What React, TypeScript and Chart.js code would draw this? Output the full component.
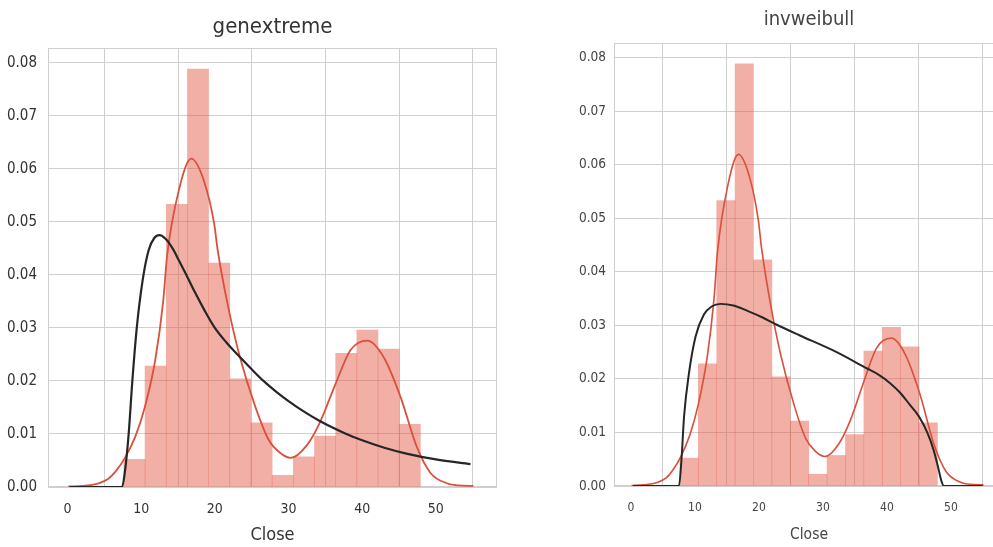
import React, { useEffect, useRef } from "react";
import { Chart, registerables } from "chart.js";

Chart.register(...registerables);

// Histogram of "Close" (density), same data in both panels
const binCenters = [9.09, 11.96, 14.84, 17.71, 20.59, 23.46, 26.34, 29.21, 32.09, 34.96, 37.84, 40.71, 43.59, 46.46];
const binHeights = [0.0052, 0.0228, 0.0533, 0.0788, 0.0422, 0.0204, 0.0121, 0.0022, 0.0057, 0.0096, 0.0252, 0.0296, 0.026, 0.0118];

// KDE (red) curve
const kdeX = [0.1, 2, 4.2, 5.5, 6.5, 7.8, 9.2, 10.5, 11.9, 13.0, 13.5, 15.1, 16.8, 18.5, 19.9, 20.4, 21.8, 23.4, 25.5, 27.3, 28.8, 30.3, 32.5, 34.3, 36.4, 38.4, 40.7, 42.9, 45.2, 47.4, 49.3, 51.5, 53, 55.1];
const kdeY = [0.0001, 0.0002, 0.0007, 0.0015, 0.0029, 0.0055, 0.0095, 0.0151, 0.0239, 0.0352, 0.0434, 0.0559, 0.0619, 0.0578, 0.0497, 0.0445, 0.034, 0.0245, 0.0151, 0.0089, 0.0065, 0.0055, 0.0079, 0.0123, 0.0195, 0.0258, 0.0276, 0.0245, 0.017, 0.0076, 0.0026, 0.0007, 0.0003, 0.0002];

// genextreme fit (black, left panel)
const gevX = [0.3, 7.4, 7.8, 8.3, 8.8, 9.4, 10.2, 11.0, 11.8, 12.5, 13.3, 14.3, 15.2, 16.2, 17.3, 18.6, 20.0, 21.6, 23.4, 25.0, 26.6, 28.3, 30, 32, 34.3, 37.7, 40, 43, 46, 50, 54.7];
const gevY = [0, 0, 0.003, 0.01, 0.02, 0.03, 0.039, 0.0446, 0.047, 0.0475, 0.0468, 0.0449, 0.0425, 0.0398, 0.0367, 0.0333, 0.03, 0.0272, 0.0245, 0.0222, 0.02, 0.018, 0.0162, 0.0143, 0.0124, 0.0101, 0.0088, 0.0074, 0.0063, 0.0052, 0.0043];

// invweibull fit (black, right panel)
const iwX = [0.3, 7.5, 7.9, 8.3, 9.06, 10.1, 11.4, 12.6, 14.0, 16, 18.2, 20.5, 22.8, 26.4, 31.6, 36.8, 38.8, 40.5, 42.0, 43.5, 45.0, 46.3, 47.3, 48.0, 48.5, 48.9, 55];
const iwY = [0, 0, 0.005, 0.013, 0.021, 0.0279, 0.032, 0.0335, 0.034, 0.0337, 0.0327, 0.0315, 0.0301, 0.0281, 0.0253, 0.022, 0.0207, 0.0192, 0.0175, 0.0153, 0.013, 0.01, 0.0067, 0.0035, 0.001, 0, 0];

const xTicks = [0, 10, 20, 30, 40, 50];
const yTicks = [0, 0.01, 0.02, 0.03, 0.04, 0.05, 0.06, 0.07, 0.08];

const FONT = '"Liberation Sans Narrow", "Arial Narrow", "DejaVu Sans Condensed", "Liberation Sans", sans-serif';
const GRID = "#cfcfcf";

const boxPlugin = {
  id: "plotBox",
  beforeDatasetsDraw(chart: any) {
    const { ctx, chartArea } = chart;
    ctx.save();
    ctx.strokeStyle = GRID;
    ctx.lineWidth = 1;
    const l = Math.round(chartArea.left) + 0.5;
    const t = Math.round(chartArea.top) + 0.5;
    const r = Math.round(chartArea.right) - 0.5;
    const b = Math.round(chartArea.bottom) - 0.5;
    ctx.strokeRect(l, t, r - l, b - t);
    ctx.restore();
  },
};

type PanelOpts = {
  title: string;
  fitX: number[];
  fitY: number[];
  yAxisWidth: number;
  xAxisHeight: number;
  padRight: number;
  titleSize: number;
  titlePadTop: number;
  titlePadBottom: number;
  tickSizeX: number;
  tickSizeY: number;
  tickPadY: number;
  tickPadX: number;
  labelSize: number;
  labelPadBottom: number;
  textColor: string;
  lineScale: number;
};

function makeConfig(o: PanelOpts): any {
  const pts = (xs: number[], ys: number[]) => xs.map((x, i) => ({ x, y: ys[i] }));
  return {
    type: "bar",
    data: {
      datasets: [
        {
          type: "line",
          data: pts(o.fitX, o.fitY),
          borderColor: "#262626",
          borderWidth: 2.2 * o.lineScale,
          pointRadius: 0,
          cubicInterpolationMode: "monotone",
          fill: false,
          order: 1,
        },
        {
          type: "line",
          data: pts(kdeX, kdeY),
          borderColor: "#d9503c",
          borderWidth: 1.8 * o.lineScale,
          pointRadius: 0,
          cubicInterpolationMode: "monotone",
          fill: false,
          order: 2,
        },
        {
          type: "bar",
          data: pts(binCenters, binHeights),
          backgroundColor: "rgba(226,80,60,0.46)",
          borderWidth: 0,
          barPercentage: 1,
          categoryPercentage: 1,
          order: 3,
        },
      ],
    },
    options: {
      responsive: false,
      animation: false,
      devicePixelRatio: 1,
      layout: { padding: { left: 0, right: o.padRight, top: 0, bottom: 0 } },
      plugins: {
        legend: { display: false },
        tooltip: { enabled: false },
        title: {
          display: true,
          text: o.title,
          fullSize: false,
          color: o.textColor,
          font: { family: FONT, size: o.titleSize, weight: "normal" },
          padding: { top: o.titlePadTop, bottom: o.titlePadBottom },
        },
      },
      scales: {
        x: {
          type: "linear",
          min: -2.65,
          max: 58.3,
          offset: false,
          afterBuildTicks: (s: any) => {
            s.ticks = xTicks.map((v) => ({ value: v }));
          },
          afterFit: (s: any) => {
            s.height = o.xAxisHeight;
          },
          grid: { color: GRID, drawTicks: false, lineWidth: 1 },
          border: { display: false },
          ticks: {
            color: o.textColor,
            padding: o.tickPadX,
            maxRotation: 0,
            font: { family: FONT, size: o.tickSizeX },
            callback: (v: any) => String(v),
          },
          title: {
            display: true,
            text: "Close",
            color: o.textColor,
            font: { family: FONT, size: o.labelSize },
            padding: { top: 0, bottom: o.labelPadBottom },
          },
        },
        y: {
          type: "linear",
          min: 0,
          max: 0.0827,
          afterBuildTicks: (s: any) => {
            s.ticks = yTicks.map((v) => ({ value: v }));
          },
          afterFit: (s: any) => {
            s.width = o.yAxisWidth;
          },
          grid: { color: GRID, drawTicks: false, lineWidth: 1 },
          border: { display: false },
          ticks: {
            color: o.textColor,
            padding: o.tickPadY,
            font: { family: FONT, size: o.tickSizeY },
            callback: (v: any) => Number(v).toFixed(2),
          },
        },
      },
    },
    plugins: [boxPlugin],
  };
}

function Panel(props: { opts: PanelOpts; left: number; width: number }) {
  const ref = useRef<HTMLCanvasElement | null>(null);
  useEffect(() => {
    if (!ref.current) return;
    const chart = new Chart(ref.current, makeConfig(props.opts));
    return () => chart.destroy();
  }, []);
  return (
    <div style={{ position: "absolute", left: props.left, top: 0, width: props.width, height: 547 }}>
      <canvas ref={ref} width={props.width} height={547} style={{ display: "block" }} />
    </div>
  );
}

const leftOpts: PanelOpts = {
  title: "genextreme",
  fitX: gevX,
  fitY: gevY,
  yAxisWidth: 48,
  xAxisHeight: 60,
  padRight: 3,
  titleSize: 22,
  titlePadTop: 14,
  titlePadBottom: 8,
  tickSizeX: 14,
  tickSizeY: 15,
  tickPadY: 11,
  tickPadX: 14,
  labelSize: 18,
  labelPadBottom: 1,
  textColor: "#333333",
  lineScale: 1,
};

const rightOpts: PanelOpts = {
  title: "invweibull",
  fitX: iwX,
  fitY: iwY,
  yAxisWidth: 114,
  xAxisHeight: 61,
  padRight: 6,
  titleSize: 20,
  titlePadTop: 8,
  titlePadBottom: 11,
  tickSizeX: 12,
  tickSizeY: 13.5,
  tickPadY: 8,
  tickPadX: 15,
  labelSize: 15.5,
  labelPadBottom: 3,
  textColor: "#444444",
  lineScale: 0.9,
};

export default function App() {
  return (
    <div style={{ position: "absolute", left: 0, top: 0, width: 993, height: 547, overflow: "hidden", background: "#fff" }}>
      <Panel opts={leftOpts} left={0} width={500} />
      <Panel opts={rightOpts} left={500} width={510} />
    </div>
  );
}
